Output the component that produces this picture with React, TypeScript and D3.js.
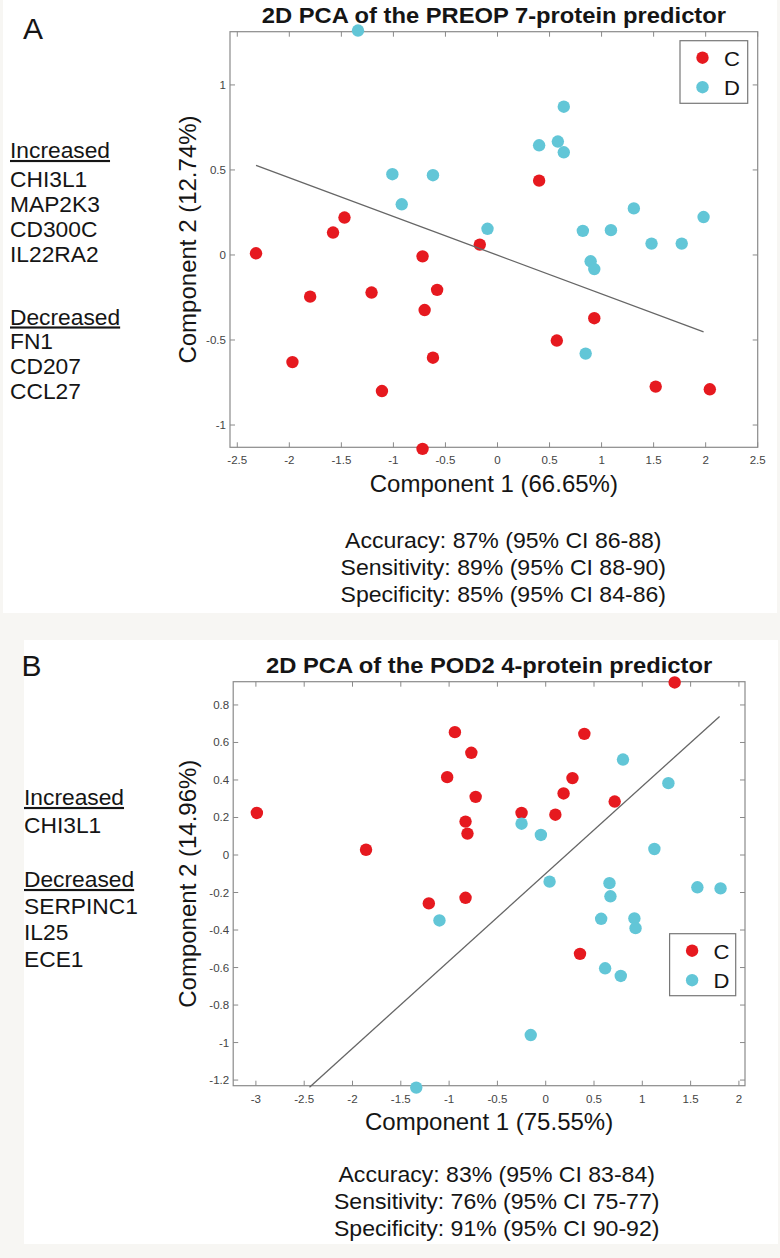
import React from "react";
import * as d3 from "d3";

type Pt = [number, number];

// Panel A: PREOP 7-protein predictor
const preopC: Pt[] = [
  [0.4, 0.437], [-1.47, 0.22], [-1.58, 0.132], [-2.32, 0.01], [-0.17, 0.061],
  [-0.72, -0.008], [-1.8, -0.245], [-1.21, -0.221], [-0.58, -0.205], [-0.7, -0.324],
  [0.93, -0.372], [0.57, -0.503], [-1.97, -0.63], [-0.62, -0.604], [-1.11, -0.8],
  [1.52, -0.774], [2.04, -0.79], [-0.72, -1.14],
];
const preopD: Pt[] = [
  [-1.34, 1.32], [0.637, 0.872], [0.58, 0.667], [0.637, 0.604], [0.4, 0.645],
  [-1.01, 0.475], [-0.62, 0.469], [-0.92, 0.298], [-0.096, 0.154], [1.31, 0.274],
  [1.98, 0.223], [0.82, 0.142], [1.09, 0.146], [1.48, 0.067], [1.77, 0.067],
  [0.895, -0.037], [0.93, -0.083], [0.847, -0.58],
];
const preopBoundary: Pt[] = [[-2.32, 0.527], [1.98, -0.452]];
const preopXTicks = [-2.5, -2, -1.5, -1, -0.5, 0, 0.5, 1, 1.5, 2, 2.5];
const preopYTicks = [-1, -0.5, 0, 0.5, 1];
const preopIncreased = ["CHI3L1", "MAP2K3", "CD300C", "IL22RA2"];
const preopDecreased = ["FN1", "CD207", "CCL27"];
const preopStats = [
  "Accuracy: 87% (95% CI 86-88)",
  "Sensitivity: 89% (95% CI 88-90)",
  "Specificity: 85% (95% CI 84-86)",
];

// Panel B: POD2 4-protein predictor
const pod2C: Pt[] = [
  [1.335, 0.92], [-2.99, 0.224], [-1.86, 0.028], [-0.94, 0.655], [-0.77, 0.545],
  [-1.02, 0.415], [-0.725, 0.31], [-0.83, 0.178], [-0.81, 0.114], [-0.25, 0.224],
  [0.1, 0.215], [0.185, 0.328], [0.277, 0.41], [0.4, 0.646], [0.714, 0.285],
  [-1.21, -0.258], [-0.83, -0.228], [0.355, -0.527],
];
const pod2D: Pt[] = [
  [0.8, 0.509], [1.27, 0.383], [-0.25, 0.167], [-0.05, 0.107], [1.125, 0.032],
  [0.04, -0.142], [0.66, -0.15], [0.67, -0.22], [1.57, -0.172], [1.81, -0.178],
  [-1.1, -0.349], [0.574, -0.34], [0.918, -0.338], [0.93, -0.39], [0.615, -0.604],
  [0.777, -0.645], [-0.155, -0.96], [-1.34, -1.24],
];
const pod2Boundary: Pt[] = [[-2.445, -1.238], [1.8, 0.739]];
const pod2XTicks = [-3, -2.5, -2, -1.5, -1, -0.5, 0, 0.5, 1, 1.5, 2];
const pod2YTicks = [-1.2, -1, -0.8, -0.6, -0.4, -0.2, 0, 0.2, 0.4, 0.6, 0.8];
const pod2Increased = ["CHI3L1"];
const pod2Decreased = ["SERPINC1", "IL25", "ECE1"];
const pod2Stats = [
  "Accuracy: 83% (95% CI 83-84)",
  "Sensitivity: 76% (95% CI 75-77)",
  "Specificity: 91% (95% CI 90-92)",
];

const groupNames = ["C", "D"];
const groupColors = ["#e6191f", "#62c6d7"];

const FONT = "'Liberation Sans', Arial, Helvetica, sans-serif";
const AXIS = "#8a8a8a";

// text helper, sx stretches horizontally (the source figure is a bit wide)
const T = ({ x, y, size, sx = 1, anchor = "start", weight = "normal", rotate = 0, underline = false, fill = "#151515", children }: any) => (
  <g transform={`translate(${x},${y}) rotate(${rotate}) scale(${sx},1)`}>
    <text
      fontSize={size}
      textAnchor={anchor}
      fontWeight={weight}
      fill={fill}
      fontFamily={FONT}
      textDecoration={underline ? "underline" : undefined}
    >
      {children}
    </text>
  </g>
);

const Panel = (p: any) => {
  const { plot } = p;
  const x = d3.scaleLinear().domain(p.xDomain).range([plot.left, plot.right]);
  const y = d3.scaleLinear().domain(p.yDomain).range([plot.bottom, plot.top]);
  const line = d3.line<Pt>().x(d => x(d[0])).y(d => y(d[1]));
  const cx = (plot.left + plot.right) / 2;
  const cy = (plot.top + plot.bottom) / 2;
  const tk = 5;

  return (
    <g>
      <T x={p.letterPos[0]} y={p.letterPos[1]} size={30}>{p.letter}</T>

      {/* protein lists */}
      <T x={p.listX} y={p.inc.head} size={21.5} sx={1.06} underline>Increased</T>
      {p.increased.map((s: string, i: number) => (
        <T key={s} x={p.listX} y={p.inc.head + p.inc.gap + i * p.inc.step} size={21.5} sx={1.06}>{s}</T>
      ))}
      <T x={p.listX} y={p.dec.head} size={21.5} sx={1.06} underline>Decreased</T>
      {p.decreased.map((s: string, i: number) => (
        <T key={s} x={p.listX} y={p.dec.head + p.dec.gap + i * p.dec.step} size={21.5} sx={1.06}>{s}</T>
      ))}

      <T x={cx} y={plot.top - 8.5} size={22} sx={1.08} weight="bold" anchor="middle">{p.title}</T>

      <rect x={plot.left} y={plot.top} width={plot.right - plot.left} height={plot.bottom - plot.top}
        fill="#fff" stroke={AXIS} strokeWidth={1.2} />

      {p.xTicks.map((v: number) => (
        <g key={"x" + v}>
          <line x1={x(v)} x2={x(v)} y1={plot.bottom} y2={plot.bottom - tk} stroke={AXIS} />
          <line x1={x(v)} x2={x(v)} y1={plot.top} y2={plot.top + tk} stroke={AXIS} />
          <T x={x(v)} y={plot.bottom + 17} size={11} sx={1.05} anchor="middle" fill="#444">{String(v)}</T>
        </g>
      ))}
      {p.yTicks.map((v: number) => (
        <g key={"y" + v}>
          <line x1={plot.left} x2={plot.left + tk} y1={y(v)} y2={y(v)} stroke={AXIS} />
          <line x1={plot.right} x2={plot.right - tk} y1={y(v)} y2={y(v)} stroke={AXIS} />
          <T x={plot.left - 4} y={y(v) + 4} size={11} sx={1.05} anchor="end" fill="#444">{String(v)}</T>
        </g>
      ))}

      {[p.groupC, p.groupD].map((pts: Pt[], gi: number) =>
        pts.map((d, i) => (
          <circle key={gi + "-" + i} cx={x(d[0])} cy={y(d[1])} r={6.2} fill={groupColors[gi]} />
        ))
      )}

      <path d={line(p.boundary) || ""} fill="none" stroke="#666" strokeWidth={1.3} />

      <T x={cx} y={p.xLabelY} size={24} anchor="middle">{p.xLabel}</T>
      <T x={196} y={cy} size={24} anchor="middle" rotate={-90}>{p.yLabel}</T>

      {/* legend */}
      <rect x={p.legend.x} y={p.legend.y} width={p.legend.w} height={p.legend.h}
        fill="#fff" stroke="#777" strokeWidth={1.2} />
      {groupNames.map((g, i) => (
        <g key={g}>
          <circle cx={p.legend.x + 22.5} cy={p.legend.y + 17 + i * 29.5} r={6.2} fill={groupColors[i]} />
          <T x={p.legend.x + 44} y={p.legend.y + 17 + i * 29.5 + 8} size={21} sx={1.05}>{g}</T>
        </g>
      ))}

      {p.stats.map((s: string, i: number) => (
        <T key={s} x={p.statsX} y={p.statsY + i * 27} size={21.5} sx={1.073} anchor="middle">{s}</T>
      ))}
    </g>
  );
};

export default function App() {
  return (
    <svg width={780} height={1258} style={{ position: "absolute", left: 0, top: 0 }}>
      <rect x={0} y={0} width={780} height={1258} fill="#f7f6f3" />
      <rect x={3} y={0} width={774} height={613} fill="#ffffff" />
      <rect x={24} y={640} width={754} height={604} fill="#ffffff" />

      <Panel
        letter="A" letterPos={[23, 38.5]}
        title="2D PCA of the PREOP 7-protein predictor"
        xLabel="Component 1 (66.65%)" yLabel="Component 2 (12.74%)"
        plot={{ left: 230, right: 757.7, top: 31.7, bottom: 447.3 }}
        xDomain={[-2.57, 2.5]} yDomain={[-1.131, 1.313]}
        xTicks={preopXTicks} yTicks={preopYTicks}
        groupC={preopC} groupD={preopD} boundary={preopBoundary}
        legend={{ x: 680, y: 40.7, w: 67.7, h: 62.6 }}
        listX={10} increased={preopIncreased} decreased={preopDecreased}
        inc={{ head: 158, gap: 28.5, step: 25 }} dec={{ head: 324.5, gap: 24.5, step: 25 }}
        xLabelY={491.7}
        stats={preopStats} statsX={503.3} statsY={548.3}
      />
      <Panel
        letter="B" letterPos={[21.5, 676]}
        title="2D PCA of the POD2 4-protein predictor"
        xLabel="Component 1 (75.55%)" yLabel="Component 2 (14.96%)"
        plot={{ left: 233.2, right: 745, top: 681.7, bottom: 1085.7 }}
        xDomain={[-3.235, 2.063]} yDomain={[-1.23, 0.924]}
        xTicks={pod2XTicks} yTicks={pod2YTicks}
        groupC={pod2C} groupD={pod2D} boundary={pod2Boundary}
        legend={{ x: 669.6, y: 933.7, w: 66.1, h: 62 }}
        listX={24} increased={pod2Increased} decreased={pod2Decreased}
        inc={{ head: 805, gap: 27.5, step: 26.5 }} dec={{ head: 887, gap: 27, step: 26.3 }}
        xLabelY={1130}
        stats={pod2Stats} statsX={496.7} statsY={1181.7}
      />
    </svg>
  );
}
